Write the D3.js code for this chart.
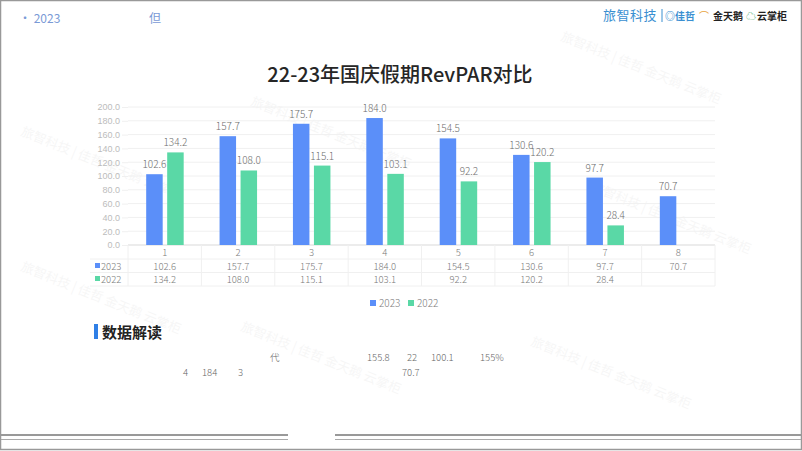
<!DOCTYPE html>
<html>
<head>
<meta charset="utf-8">
<script src="https://cdn.jsdelivr.net/npm/d3@7"></script>
<style>
  body { margin: 0; background: #fff; }
  svg { display: block; font-family: "Noto Sans CJK SC", "Noto Sans", sans-serif; }
</style>
</head>
<body>
<svg id="canvas" width="802" height="451"></svg>
<script>
// data
var categories = ['1', '2', '3', '4', '5', '6', '7', '8']
var series = ['2023', '2022']
var v2023 = [102.6, 157.7, 175.7, 184.0, 154.5, 130.6, 97.7, 70.7]
var v2022 = [134.2, 108.0, 115.1, 103.1, 92.2, 120.2, 28.4, null]
var yTicks = [0, 20, 40, 60, 80, 100, 120, 140, 160, 180, 200]
var colors = {'2023': '#5b8ff9', '2022': '#5ad8a6'}

var svg = d3.select('#canvas')
var W = 802, H = 451

// faint watermarks
var marks = [[560, 40], [250, 105], [20, 135], [590, 190], [240, 330], [20, 270], [530, 345]]
marks.forEach(function(m) {
  svg.append('text')
    .attr('transform', 'translate(' + m[0] + ',' + m[1] + ') rotate(22)')
    .attr('font-size', 13)
    .attr('fill', '#000')
    .attr('opacity', 0.03)
    .text('旅智科技 | 佳哲 金天鹅 云掌柜')
})

// frame
svg.append('rect').attr('x', 0.5).attr('y', 0.5).attr('width', W - 1).attr('height', H - 2)
  .attr('fill', 'none').attr('stroke', '#999').attr('stroke-width', 1.5)

// header
svg.append('text').attr('x', 19).attr('y', 23).attr('font-size', 12).attr('fill', '#7a9ad6').text('·  2023')
svg.append('text').attr('x', 149).attr('y', 23).attr('font-size', 12).attr('fill', '#7a9ad6').text('但')

svg.append('text').attr('x', 603).attr('y', 20).attr('font-size', 13).attr('fill', '#3a8fd1')
  .attr('letter-spacing', 0.5).text('旅智科技')
svg.append('line').attr('x1', 662).attr('x2', 662).attr('y1', 9).attr('y2', 22).attr('stroke', '#3a8fd1')
svg.append('text').attr('x', 665).attr('y', 20).attr('font-size', 10).attr('fill', '#3a8fd1').attr('font-weight', 'bold').text('◎佳哲')
svg.append('text').attr('x', 699).attr('y', 20).attr('font-size', 10).attr('fill', '#e8a33c').text('⌒')
svg.append('text').attr('x', 713).attr('y', 20).attr('font-size', 10).attr('fill', '#222').attr('font-weight', 'bold').text('金天鹅')
svg.append('text').attr('x', 746).attr('y', 20).attr('font-size', 10).attr('fill', '#2f9e57').text('☁')
svg.append('text').attr('x', 757).attr('y', 20).attr('font-size', 10).attr('fill', '#222').attr('font-weight', 'bold').text('云掌柜')

// title
svg.append('text').attr('x', 400).attr('y', 82).attr('text-anchor', 'middle')
  .attr('font-size', 20).attr('font-weight', 500).attr('fill', '#262626')
  .text('22-23年国庆假期RevPAR对比')

// scales
var x = d3.scaleBand().domain(categories).range([128, 715])
var y = d3.scaleLinear().domain([0, 200]).range([245, 107])

// grid
svg.append('g').selectAll('line').data(yTicks).enter().append('line')
  .attr('x1', 128).attr('x2', 715)
  .attr('y1', function(d) { return y(d) }).attr('y2', function(d) { return y(d) })
  .attr('stroke', function(d) { return d === 0 ? '#d9d9d9' : '#f0f0f0' })

var yAxis = svg.append('g').attr('transform', 'translate(128,0)')
  .call(d3.axisLeft(y).tickValues(yTicks).tickFormat(d3.format('.1f')).tickSize(6).tickPadding(2))
yAxis.select('.domain').remove()
yAxis.selectAll('line').attr('stroke', '#f0f0f0')
yAxis.selectAll('text').attr('font-size', 9).attr('fill', '#bcbcbc').attr('font-weight', 300)

// bars
var bw = 16.5
var offsets = {'2023': -18.5, '2022': 2.5}
var vals = {'2023': v2023, '2022': v2022}
series.forEach(function(s) {
  var rows = categories.map(function(c, i) { return {c: c, v: vals[s][i]} })
    .filter(function(d) { return d.v != null })
  var g = svg.append('g')
  g.selectAll('rect').data(rows).enter().append('rect')
    .attr('x', function(d) { return x(d.c) + x.bandwidth() / 2 + offsets[s] })
    .attr('y', function(d) { return y(d.v) })
    .attr('width', bw)
    .attr('height', function(d) { return y(0) - y(d.v) })
    .attr('fill', colors[s])
  g.selectAll('text').data(rows).enter().append('text')
    .attr('x', function(d) { return x(d.c) + x.bandwidth() / 2 + offsets[s] + bw / 2 })
    .attr('y', function(d) { return y(d.v) - 6 })
    .attr('text-anchor', 'middle')
    .attr('font-size', 10).attr('font-weight', 300).attr('fill', '#6e6e6e')
    .text(function(d) { return d.v.toFixed(1) })
})

// data table
var rowY = [252, 266, 279]
var tbl = svg.append('g')
var lineYs = [245, 259, 272.5, 286]
lineYs.slice(1).forEach(function(ly) {
  tbl.append('line').attr('x1', 90).attr('x2', 715).attr('y1', ly).attr('y2', ly).attr('stroke', '#f0f0f0')
})
categories.concat(['end']).forEach(function(c, i) {
  var lx = 128 + i * x.bandwidth()
  tbl.append('line').attr('x1', lx).attr('x2', lx).attr('y1', 245).attr('y2', 286).attr('stroke', '#f0f0f0')
})
tbl.selectAll('.cat').data(categories).enter().append('text')
  .attr('x', function(d) { return x(d) + x.bandwidth() / 2 }).attr('y', rowY[0] + 3.5)
  .attr('text-anchor', 'middle').attr('font-size', 9.5).attr('font-weight', 300).attr('fill', '#7a7a7a')
  .text(function(d) { return d })
series.forEach(function(s, k) {
  var ry = rowY[k + 1]
  tbl.append('rect').attr('x', 95).attr('y', ry - 3).attr('width', 5).attr('height', 5).attr('fill', colors[s])
  tbl.append('text').attr('x', 101).attr('y', ry + 3.5).attr('font-size', 9.5).attr('font-weight', 300).attr('fill', '#7a7a7a').text(s)
  tbl.selectAll('.v' + s).data(categories).enter().append('text')
    .attr('x', function(d) { return x(d) + x.bandwidth() / 2 }).attr('y', ry + 3.5)
    .attr('text-anchor', 'middle').attr('font-size', 9.5).attr('font-weight', 300).attr('fill', '#7a7a7a')
    .text(function(d, i) { return vals[s][i] == null ? '' : vals[s][i].toFixed(1) })
})

// legend
var leg = svg.append('g')
series.forEach(function(s, i) {
  var lx = 370 + i * 38
  leg.append('rect').attr('x', lx).attr('y', 300).attr('width', 6).attr('height', 6).attr('fill', colors[s])
  leg.append('text').attr('x', lx + 9).attr('y', 306.5).attr('font-size', 10).attr('font-weight', 300).attr('fill', '#7a7a7a').text(s)
})

// 数据解读 section
svg.append('rect').attr('x', 94).attr('y', 324).attr('width', 4).attr('height', 15).attr('fill', '#2f7fe6')
svg.append('text').attr('x', 102).attr('y', 338).attr('font-size', 15).attr('font-weight', 'bold').attr('fill', '#222').text('数据解读')

var notes = [[270, 361, '代'], [367, 361, '155.8'], [407, 361, '22'], [431, 361, '100.1'], [480, 361, '155%'],
  [183, 376, '4'], [202, 376, '184'], [238, 376, '3'], [402, 376, '70.7']]
svg.append('g').selectAll('text').data(notes).enter().append('text')
  .attr('x', function(d) { return d[0] }).attr('y', function(d) { return d[1] })
  .attr('font-size', 9.5).attr('font-weight', 300).attr('fill', '#666').text(function(d) { return d[2] })

// bottom double rules
;[[1, 288], [335, 801]].forEach(function(seg) {
  svg.append('line').attr('x1', seg[0]).attr('x2', seg[1]).attr('y1', 435).attr('y2', 435).attr('stroke', '#999').attr('stroke-width', 2)
  svg.append('line').attr('x1', seg[0]).attr('x2', seg[1]).attr('y1', 439.5).attr('y2', 439.5).attr('stroke', '#aaa').attr('stroke-width', 1)
})
</script>
</body>
</html>
